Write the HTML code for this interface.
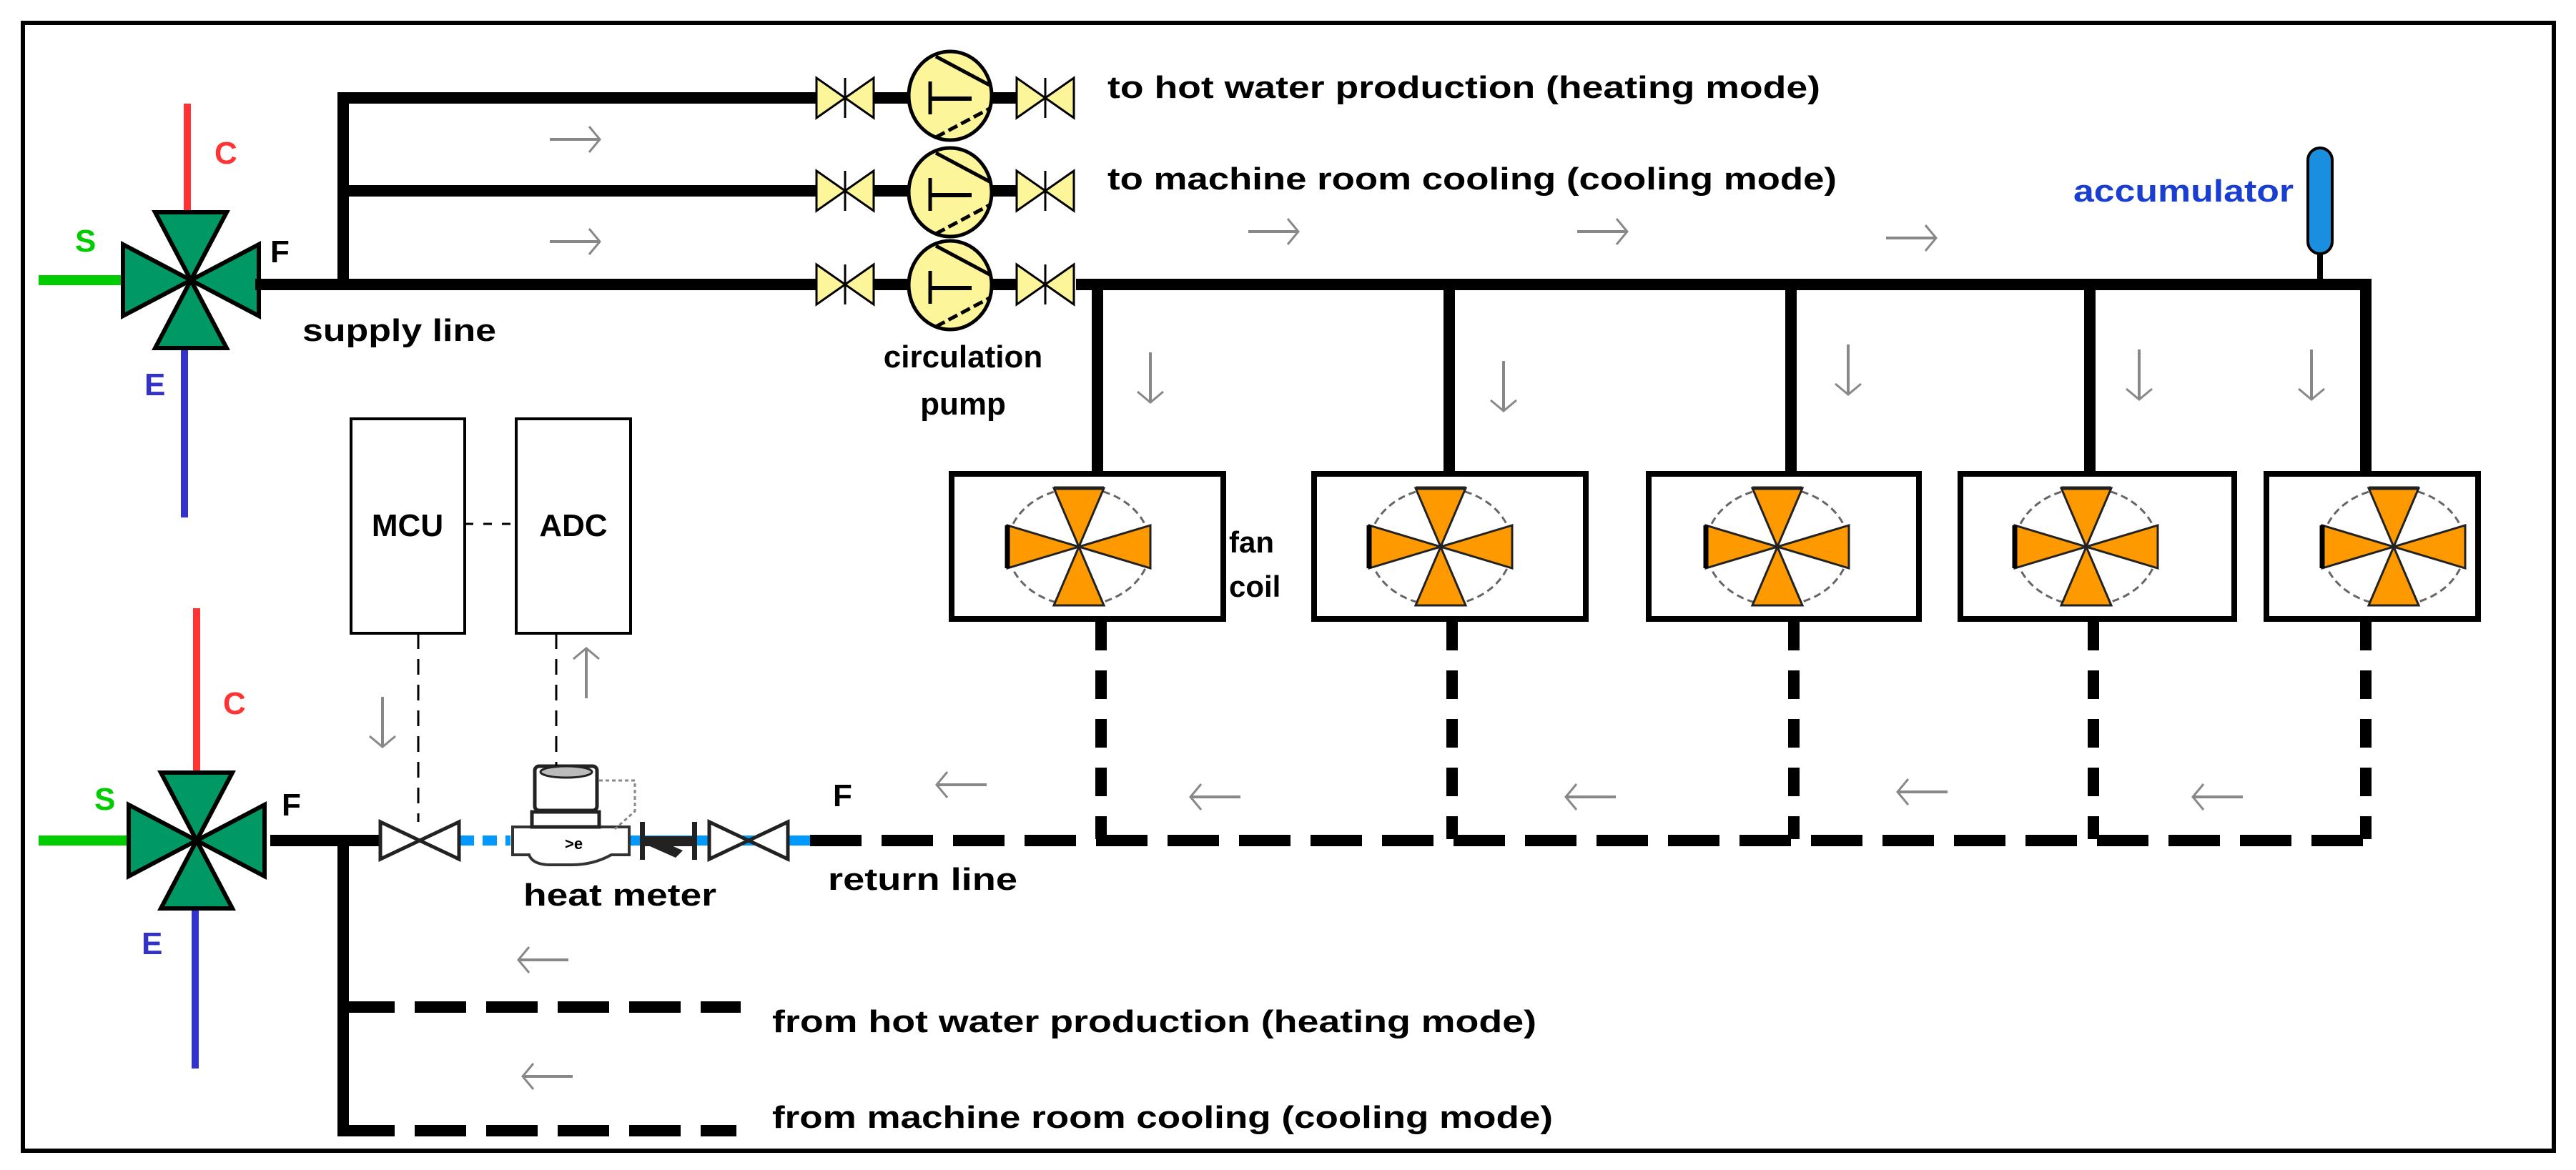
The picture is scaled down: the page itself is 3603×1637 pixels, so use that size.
<!DOCTYPE html>
<html><head><meta charset="utf-8"><style>
html,body{margin:0;padding:0;background:#fff;}
svg{display:block;}
text{font-family:"Liberation Sans",Arial,sans-serif;font-weight:bold;}
</style></head><body>
<svg width="3603" height="1637" viewBox="0 0 3603 1637" xmlns="http://www.w3.org/2000/svg">
<defs>
<g id="vy"><polygon points="-40,-28 -40,28 0,0" fill="#fdf59a" stroke="#000" stroke-width="3"/><polygon points="40,-28 40,28 0,0" fill="#fdf59a" stroke="#000" stroke-width="3"/><line x1="0" y1="-28" x2="0" y2="28" stroke="#000" stroke-width="3"/></g>
<g id="pump"><ellipse cx="0" cy="0" rx="58" ry="62" fill="#fdf59a" stroke="#000" stroke-width="5"/><line x1="-30" y1="4" x2="30" y2="4" stroke="#000" stroke-width="6"/><line x1="-28" y1="-20" x2="-28" y2="26" stroke="#000" stroke-width="5"/><line x1="-20" y1="-55" x2="55" y2="-15" stroke="#000" stroke-width="5"/><line x1="-20" y1="58" x2="55" y2="18" stroke="#000" stroke-width="5" stroke-dasharray="14,6"/></g>
<g id="fan"><ellipse cx="0" cy="0" rx="100" ry="82" fill="#fff" stroke="#666" stroke-width="3" stroke-dasharray="10,6"/>
<polygon points="-35,-82 35,-82 0,0" fill="#f90" stroke="#222" stroke-width="3"/>
<polygon points="-35,82 35,82 0,0" fill="#f90" stroke="#222" stroke-width="3"/>
<polygon points="-100,-30 -100,30 0,0" fill="#f90" stroke="#222" stroke-width="3"/>
<polygon points="100,-30 100,30 0,0" fill="#f90" stroke="#222" stroke-width="3"/>
<line x1="-100" y1="-30" x2="-100" y2="30" stroke="#000" stroke-width="7"/>
<line x1="-35" y1="-82" x2="35" y2="-82" stroke="#222" stroke-width="5"/></g>
<g id="mix"><polygon points="-50,-95 50,-95 0,0" fill="#009966" stroke="#000" stroke-width="6"/><polygon points="-50,95 50,95 0,0" fill="#009966" stroke="#000" stroke-width="6"/><polygon points="-95,-50 -95,50 0,0" fill="#009966" stroke="#000" stroke-width="6"/><polygon points="95,-50 95,50 0,0" fill="#009966" stroke="#000" stroke-width="6"/></g>
<g id="ar"><line x1="-35" y1="0" x2="35" y2="0" stroke="#888" stroke-width="4"/><polyline points="20,-18 35,0 20,18" fill="none" stroke="#888" stroke-width="3"/></g>
<g id="wv"><polygon points="-55,-26 -55,26 0,0" fill="#fff" stroke="#222" stroke-width="5"/><polygon points="55,-26 55,26 0,0" fill="#fff" stroke="#222" stroke-width="5"/></g>
</defs>
<rect x="32" y="32" width="3540" height="1578" fill="none" stroke="#000" stroke-width="6"/>

<!-- upper mixing valve -->
<line x1="262" y1="145" x2="262" y2="300" stroke="#f33" stroke-width="10"/>
<line x1="258" y1="487" x2="258" y2="724" stroke="#33c" stroke-width="10"/>
<line x1="54" y1="392" x2="173" y2="392" stroke="#0c0" stroke-width="14"/>
<use href="#mix" x="267" y="392"/>
<text x="300" y="229" font-size="44" fill="#f33">C</text>
<text x="105" y="352" font-size="44" fill="#0c0">S</text>
<text x="202" y="553" font-size="44" fill="#33c">E</text>
<text x="378" y="367" font-size="44">F</text>

<!-- supply lines -->
<g stroke="#000" stroke-width="16" fill="none">
<polyline points="357,398 1143,398"/>
<polyline points="480,398 480,137 1143,137"/>
<line x1="480" y1="267" x2="1143" y2="267"/>
<line x1="1220" y1="137" x2="1280" y2="137"/><line x1="1380" y1="137" x2="1425" y2="137"/>
<line x1="1220" y1="267" x2="1280" y2="267"/><line x1="1380" y1="267" x2="1425" y2="267"/>
<line x1="1220" y1="398" x2="1280" y2="398"/><line x1="1380" y1="398" x2="1425" y2="398"/>
<polyline points="1505,398 3309,398 3309,660"/>
<line x1="1535" y1="398" x2="1535" y2="660"/>
<line x1="2027" y1="398" x2="2027" y2="660"/>
<line x1="2505" y1="398" x2="2505" y2="660"/>
<line x1="2923" y1="398" x2="2923" y2="660"/>
</g>
<use href="#vy" x="1182" y="137"/><use href="#vy" x="1462" y="137"/><use href="#pump" x="1329" y="134"/>
<use href="#vy" x="1182" y="267"/><use href="#vy" x="1462" y="267"/><use href="#pump" x="1329" y="269"/>
<use href="#vy" x="1182" y="398"/><use href="#vy" x="1462" y="398"/><use href="#pump" x="1329" y="399"/>

<text x="1549" y="137" font-size="44" textLength="997" lengthAdjust="spacingAndGlyphs">to hot water production (heating mode)</text>
<text x="1549" y="265" font-size="44" textLength="1020" lengthAdjust="spacingAndGlyphs">to machine room cooling (cooling mode)</text>
<text x="423" y="477" font-size="44" textLength="271" lengthAdjust="spacingAndGlyphs">supply line</text>
<text x="1347" y="514" font-size="44" text-anchor="middle">circulation</text>
<text x="1347" y="580" font-size="44" text-anchor="middle">pump</text>

<!-- accumulator -->
<rect x="3228" y="207" width="34" height="148" rx="17" fill="#1a8fe0" stroke="#000" stroke-width="4"/>
<line x1="3245" y1="355" x2="3245" y2="398" stroke="#000" stroke-width="8"/>
<text x="2900" y="282" font-size="44" fill="#1a3fd0" textLength="308" lengthAdjust="spacingAndGlyphs">accumulator</text>

<!-- fan coils -->
<g fill="#fff" stroke="#000" stroke-width="8">
<rect x="1331" y="663" width="380" height="203"/>
<rect x="1838" y="663" width="380" height="203"/>
<rect x="2306" y="663" width="378" height="203"/>
<rect x="2742" y="663" width="383" height="203"/>
<rect x="3170" y="663" width="296" height="203"/>
</g>
<use href="#fan" x="1509" y="765"/><use href="#fan" x="2015" y="765"/><use href="#fan" x="2486" y="765"/><use href="#fan" x="2918" y="765"/><use href="#fan" x="3348" y="765"/>
<text x="1719" y="773" font-size="42">fan</text>
<text x="1719" y="835" font-size="42">coil</text>

<!-- return dashed -->
<g stroke="#000" stroke-width="16" fill="none">
<line x1="1540" y1="870" x2="1540" y2="1174" stroke-dasharray="40,28"/>
<line x1="2031" y1="870" x2="2031" y2="1174" stroke-dasharray="40,28"/>
<line x1="2509" y1="870" x2="2509" y2="1174" stroke-dasharray="40,28"/>
<line x1="2928" y1="870" x2="2928" y2="1174" stroke-dasharray="40,28"/>
<line x1="3309" y1="870" x2="3309" y2="1174" stroke-dasharray="40,28"/>
<line x1="1133" y1="1176" x2="3313" y2="1176" stroke-dasharray="72,28"/>
<line x1="480" y1="1409" x2="1036" y2="1409" stroke-dasharray="72,28"/>
<line x1="480" y1="1582" x2="1030" y2="1582" stroke-dasharray="72,28"/>
<line x1="480" y1="1176" x2="480" y2="1590" stroke-dasharray="none"/>
<line x1="378" y1="1176" x2="541" y2="1176"/>
</g>

<!-- lower mixing valve -->
<line x1="275" y1="851" x2="275" y2="1085" stroke="#f33" stroke-width="10"/>
<line x1="273" y1="1260" x2="273" y2="1495" stroke="#33c" stroke-width="10"/>
<line x1="54" y1="1176" x2="190" y2="1176" stroke="#0c0" stroke-width="14"/>
<use href="#mix" x="275" y="1176"/>
<text x="312" y="999" font-size="44" fill="#f33">C</text>
<text x="132" y="1133" font-size="44" fill="#0c0">S</text>
<text x="198" y="1335" font-size="44" fill="#33c">E</text>
<text x="394" y="1141" font-size="44">F</text>

<!-- meter line -->
<line x1="643" y1="1176" x2="714" y2="1176" stroke="#09f" stroke-width="14" stroke-dasharray="20,12"/>
<line x1="878" y1="1176" x2="1133" y2="1176" stroke="#09f" stroke-width="14"/>
<use href="#wv" x="587" y="1176"/>
<use href="#wv" x="1047" y="1176"/>
<!-- check valve -->
<rect x="895" y="1150" width="7" height="53" fill="#222"/><rect x="968" y="1150" width="7" height="53" fill="#222"/>
<rect x="898" y="1170" width="74" height="14" fill="#222"/><polygon points="900,1180 945,1200 955,1190 910,1170" fill="#222"/>
<!-- heat meter -->
<path d="M717,1157 L880,1157 L880,1196 L855,1196 Q830,1210 800,1210 L770,1210 Q745,1210 740,1196 L717,1196 Z" fill="#fff" stroke="#333" stroke-width="4"/>
<rect x="744" y="1136" width="94" height="21" fill="#fff" stroke="#222" stroke-width="5"/>
<rect x="748" y="1072" width="87" height="62" rx="6" fill="#fff" stroke="#222" stroke-width="5"/>
<ellipse cx="792" cy="1080" rx="36" ry="8" fill="#bbb" stroke="#222" stroke-width="3"/>
<polyline points="838,1092 888,1092 888,1135 860,1160" fill="none" stroke="#888" stroke-width="3" stroke-dasharray="5,4"/>
<text x="790" y="1188" font-size="22">&gt;e</text>
<text x="867" y="1267" font-size="44" text-anchor="middle" textLength="270" lengthAdjust="spacingAndGlyphs">heat meter</text>
<text x="1158" y="1245" font-size="44" textLength="265" lengthAdjust="spacingAndGlyphs">return line</text>
<text x="1165" y="1128" font-size="44">F</text>

<!-- MCU / ADC -->
<rect x="491" y="586" width="159" height="300" fill="#fff" stroke="#000" stroke-width="4"/>
<rect x="722" y="586" width="160" height="300" fill="#fff" stroke="#000" stroke-width="4"/>
<text x="570" y="750" font-size="44" text-anchor="middle">MCU</text>
<text x="802" y="750" font-size="44" text-anchor="middle">ADC</text>
<line x1="650" y1="733" x2="722" y2="733" stroke="#000" stroke-width="3" stroke-dasharray="12,14"/>
<line x1="585" y1="886" x2="585" y2="1150" stroke="#000" stroke-width="3" stroke-dasharray="22,14"/>
<line x1="778" y1="886" x2="778" y2="1072" stroke="#000" stroke-width="3" stroke-dasharray="22,14"/>

<text x="1080" y="1444" font-size="44" textLength="1069" lengthAdjust="spacingAndGlyphs">from hot water production (heating mode)</text>
<text x="1080" y="1578" font-size="44" textLength="1092" lengthAdjust="spacingAndGlyphs">from machine room cooling (cooling mode)</text>

<!-- flow arrows -->
<use href="#ar" x="804" y="195"/><use href="#ar" x="804" y="338"/>
<use href="#ar" x="1781" y="324"/><use href="#ar" x="2241" y="324"/><use href="#ar" x="2673" y="333"/>
<use href="#ar" transform="translate(1609,528) rotate(90)"/><use href="#ar" transform="translate(2103,540) rotate(90)"/>
<use href="#ar" transform="translate(2585,517) rotate(90)"/><use href="#ar" transform="translate(2992,524) rotate(90)"/>
<use href="#ar" transform="translate(3233,524) rotate(90)"/>
<use href="#ar" transform="translate(535,1010) rotate(90)"/><use href="#ar" transform="translate(820,942) rotate(-90)"/>
<use href="#ar" transform="translate(1345,1098) rotate(180)"/><use href="#ar" transform="translate(1700,1115) rotate(180)"/>
<use href="#ar" transform="translate(2225,1115) rotate(180)"/><use href="#ar" transform="translate(2689,1108) rotate(180)"/>
<use href="#ar" transform="translate(3102,1115) rotate(180)"/>
<use href="#ar" transform="translate(760,1343) rotate(180)"/><use href="#ar" transform="translate(766,1506) rotate(180)"/>
</svg>
</body></html>
